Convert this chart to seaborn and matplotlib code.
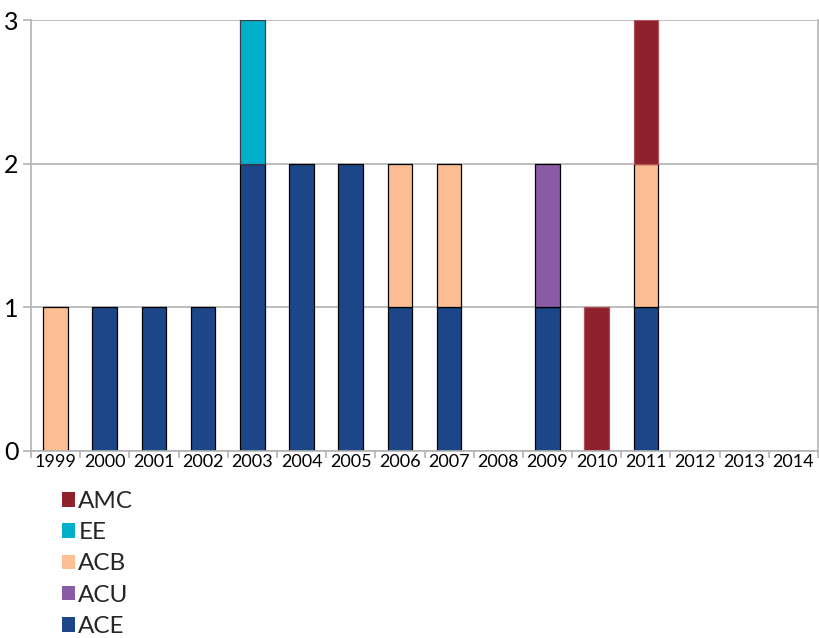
import matplotlib
matplotlib.use("Agg")
import matplotlib.pyplot as plt
from matplotlib.patches import Patch
from matplotlib.ticker import FixedLocator
import numpy as np
import pandas as pd
import seaborn as sns

years = ["1999", "2000", "2001", "2002", "2003", "2004", "2005", "2006",
         "2007", "2008", "2009", "2010", "2011", "2012", "2013", "2014"]
ace = [0, 1, 1, 1, 2, 2, 2, 1, 1, 0, 1, 0, 1, 0, 0, 0]
acu = [0, 0, 0, 0, 0, 0, 0, 0, 0, 0, 1, 0, 0, 0, 0, 0]
acb = [1, 0, 0, 0, 0, 0, 0, 1, 1, 0, 0, 0, 1, 0, 0, 0]
ee = [0, 0, 0, 0, 1, 0, 0, 0, 0, 0, 0, 0, 0, 0, 0, 0]
amc = [0, 0, 0, 0, 0, 0, 0, 0, 0, 0, 0, 1, 1, 0, 0, 0]

# stacking order: bottom to top
series = [
    ("ACE", ace, "#1d4689", "black"),
    ("ACU", acu, "#8a5ca6", "black"),
    ("ACB", acb, "#fcbe92", "black"),
    ("EE", ee, "#00b0cb", "#3a3a48"),
    ("AMC", amc, "#8e212b", "#b2505a"),
]

sns.set_theme(style="white")
plt.rcParams["font.family"] = ["Lato", "DejaVu Sans"]

fig = plt.figure(figsize=(8.19, 6.38), dpi=100)
ax = fig.add_axes([31 / 819, 1 - 451 / 638, 787 / 819, 431 / 638])

bottom = np.zeros(len(years))
for name, vals, color, edge in series:
    df = pd.DataFrame({"year": years, "n": vals})
    n_before = len(ax.patches)
    sns.barplot(data=df, x="year", y="n", order=years, color=color,
                bottom=bottom, width=0.5, edgecolor=edge, linewidth=0.9,
                saturation=1, ax=ax, errorbar=None)
    # empty segments would otherwise leave a stray outline
    for p in ax.patches[n_before:]:
        if p.get_height() == 0:
            p.set_visible(False)
    bottom = bottom + np.array(vals)

ax.set_xlim(-0.5, len(years) - 0.5)
ax.set_ylim(0, 3)
ax.set_yticks([0, 1, 2, 3])
ax.set_yticklabels(["0", "1", "2", "3"], fontsize=18, color="black")
ax.set_xlabel("")
ax.set_ylabel("")
ax.tick_params(axis="x", which="major", length=0, labelsize=13,
               labelcolor="black", pad=2)
ax.xaxis.set_minor_locator(FixedLocator(np.arange(-0.5, len(years), 1)))
ax.tick_params(axis="x", which="minor", length=5, width=1.2,
               color="#b3b3b3", bottom=True)
ax.tick_params(axis="y", which="major", length=6, width=1.2,
               color="#b3b3b3", left=True, pad=3)

ax.yaxis.grid(True, color="#b3b3b3", linewidth=1.2)
ax.set_axisbelow(True)
for side in ["left", "bottom", "right"]:
    ax.spines[side].set_visible(True)
    ax.spines[side].set_color("#b3b3b3")
    ax.spines[side].set_linewidth(1.2)
ax.spines["top"].set_visible(False)

handles = [Patch(facecolor=c, edgecolor="none", label=n)
           for n, _, c, _ in reversed(series)]
fig.legend(handles=handles, loc="upper left",
           bbox_to_anchor=(45 / 819, 1 - 474 / 638), frameon=False,
           fontsize=17.5, handlelength=0.55, handleheight=0.55,
           handletextpad=0.12, labelspacing=0.42, borderpad=0.2)

fig.savefig("out.png", dpi=100)
